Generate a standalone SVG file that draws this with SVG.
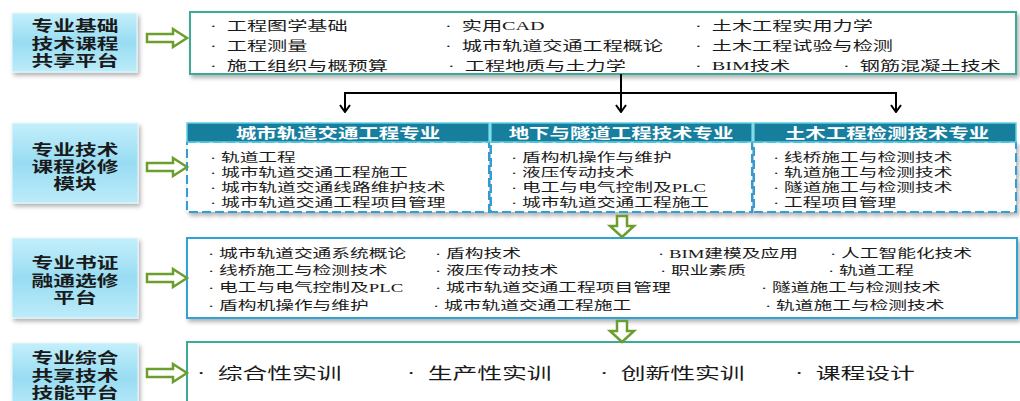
<svg xmlns="http://www.w3.org/2000/svg" width="1020" height="401" viewBox="0 0 1020 401">
<style>
text{font-family:"Noto Sans CJK SC","Noto Sans",sans-serif;fill:#1a1a1a}
.lat{font-family:"Liberation Serif","Noto Sans CJK SC",serif}
.t1{font-size:13px}
.t2{font-size:12px}
.t3{font-size:12.5px}
.t4{font-size:16px}
.lb{font-size:14.5px;font-weight:700;text-anchor:middle}
.hd{font-size:14px;font-weight:700;fill:#fff;text-anchor:middle}
.lab{fill:url(#lg);stroke:#e8f8fc;stroke-width:1}
.cb{fill:#fff;stroke-width:2}
.teal{stroke:#3caa98}
.blue{stroke:#2ea3d6}
.dash{fill:#fff;stroke:#2e9fd8;stroke-width:2;stroke-dasharray:9 4}
.hbar{fill:#187e9e;stroke:#5fd0e0;stroke-width:1.5}
.garr{fill:#fff;stroke:#6b9e2f;stroke-width:2.5;stroke-linejoin:miter}
.con{fill:none;stroke:#000;stroke-width:2}
</style>
<defs>
<linearGradient id="lg" x1="0" y1="0" x2="0" y2="1">
<stop offset="0" stop-color="#c4effb"/>
<stop offset="0.5" stop-color="#98dcf3"/>
<stop offset="1" stop-color="#bcecf9"/>
</linearGradient>
<filter id="sh" x="-5%" y="-10%" width="115%" height="130%">
<feDropShadow dx="2" dy="3" stdDeviation="2" flood-color="#000" flood-opacity="0.3"/>
</filter>
<marker id="ah" viewBox="0 0 12 10" refX="6" refY="9" markerWidth="12" markerHeight="10" markerUnits="userSpaceOnUse" orient="0">
<path d="M1,2 L6,9 L11,2" fill="none" stroke="#000" stroke-width="2"/>
</marker>
</defs>

<!-- Row 1 -->
<g id="label1">
<rect class="lab" x="12" y="13" width="125" height="59" filter="url(#sh)"/>
<text class="lb" transform="translate(75,31) scale(1.5,1)"><tspan x="0" y="0">专业基础</tspan><tspan x="0" y="18">技术课程</tspan><tspan x="0" y="35">共享平台</tspan></text>
</g>
<g id="content1">
<rect class="cb teal" x="190" y="12" width="826" height="62" filter="url(#sh)"/>
<text class="t1" transform="translate(210,30) scale(1.55,1)"><tspan class="lat">·&#160;&#160;</tspan>工程图学基础</text>
<text class="t1" transform="translate(445,30) scale(1.55,1)"><tspan class="lat">·&#160;&#160;</tspan>实用<tspan class="lat">CAD</tspan></text>
<text class="t1" transform="translate(695,30) scale(1.55,1)"><tspan class="lat">·&#160;&#160;</tspan>土木工程实用力学</text>
<text class="t1" transform="translate(210,50) scale(1.55,1)"><tspan class="lat">·&#160;&#160;</tspan>工程测量</text>
<text class="t1" transform="translate(445,50) scale(1.55,1)"><tspan class="lat">·&#160;&#160;</tspan>城市轨道交通工程概论</text>
<text class="t1" transform="translate(695,50) scale(1.55,1)"><tspan class="lat">·&#160;&#160;</tspan>土木工程试验与检测</text>
<text class="t1" transform="translate(210,70) scale(1.55,1)"><tspan class="lat">·&#160;&#160;</tspan>施工组织与概预算</text>
<text class="t1" transform="translate(448,70) scale(1.55,1)"><tspan class="lat">·&#160;&#160;</tspan>工程地质与土力学</text>
<text class="t1" transform="translate(695,70) scale(1.55,1)"><tspan class="lat">·&#160;&#160;BIM</tspan>技术</text>
<text class="t1" transform="translate(843,70) scale(1.55,1)"><tspan class="lat">·&#160;&#160;</tspan>钢筋混凝土技术</text>
</g>

<!-- Row 2 -->
<g id="label2">
<rect class="lab" x="12" y="123" width="126" height="80" filter="url(#sh)"/>
<text class="lb" transform="translate(75,155) scale(1.5,1)"><tspan x="0" y="0">专业技术</tspan><tspan x="0" y="17">课程必修</tspan><tspan x="0" y="34">模块</tspan></text>
</g>
<g id="module1">
<rect class="dash" x="187" y="142" width="302" height="70" filter="url(#sh)"/>
<rect class="hbar" x="187" y="123" width="302" height="19"/>
<text class="hd" transform="translate(338,138) scale(1.46,1)">城市轨道交通工程专业</text>
<text class="t2" transform="translate(210,162) scale(1.56,1)"><tspan class="lat">·&#160;</tspan>轨道工程</text>
<text class="t2" transform="translate(210,177) scale(1.56,1)"><tspan class="lat">·&#160;</tspan>城市轨道交通工程施工</text>
<text class="t2" transform="translate(210,192) scale(1.56,1)"><tspan class="lat">·&#160;</tspan>城市轨道交通线路维护技术</text>
<text class="t2" transform="translate(210,207) scale(1.56,1)"><tspan class="lat">·&#160;</tspan>城市轨道交通工程项目管理</text>
</g>
<g id="module2">
<rect class="dash" x="491" y="142" width="261" height="70" filter="url(#sh)"/>
<rect class="hbar" x="491" y="123" width="261" height="19"/>
<text class="hd" transform="translate(621,138) scale(1.46,1)">地下与隧道工程技术专业</text>
<text class="t2" transform="translate(511,162) scale(1.56,1)"><tspan class="lat">·&#160;</tspan>盾构机操作与维护</text>
<text class="t2" transform="translate(511,177) scale(1.56,1)"><tspan class="lat">·&#160;</tspan>液压传动技术</text>
<text class="t2" transform="translate(511,192) scale(1.56,1)"><tspan class="lat">·&#160;</tspan>电工与电气控制及<tspan class="lat">PLC</tspan></text>
<text class="t2" transform="translate(511,207) scale(1.56,1)"><tspan class="lat">·&#160;</tspan>城市轨道交通工程施工</text>
</g>
<g id="module3">
<rect class="dash" x="754" y="142" width="262" height="70" filter="url(#sh)"/>
<rect class="hbar" x="754" y="123" width="262" height="19"/>
<text class="hd" transform="translate(887,138) scale(1.46,1)">土木工程检测技术专业</text>
<text class="t2" transform="translate(773,162) scale(1.56,1)"><tspan class="lat">·&#160;</tspan>线桥施工与检测技术</text>
<text class="t2" transform="translate(773,177) scale(1.56,1)"><tspan class="lat">·&#160;</tspan>轨道施工与检测技术</text>
<text class="t2" transform="translate(773,192) scale(1.56,1)"><tspan class="lat">·&#160;</tspan>隧道施工与检测技术</text>
<text class="t2" transform="translate(773,207) scale(1.56,1)"><tspan class="lat">·&#160;</tspan>工程项目管理</text>
</g>

<!-- Row 3 -->
<g id="label3">
<rect class="lab" x="12" y="238" width="126" height="80" filter="url(#sh)"/>
<text class="lb" transform="translate(75,268) scale(1.5,1)"><tspan x="0" y="0">专业书证</tspan><tspan x="0" y="18">融通选修</tspan><tspan x="0" y="35">平台</tspan></text>
</g>
<g id="content3">
<rect class="cb blue" x="187" y="238" width="830" height="80" filter="url(#sh)"/>
<text class="t3" transform="translate(208,258) scale(1.5,1)"><tspan class="lat">·&#160;</tspan>城市轨道交通系统概论</text>
<text class="t3" transform="translate(435,258) scale(1.5,1)"><tspan class="lat">·&#160;</tspan>盾构技术</text>
<text class="t3" transform="translate(658,258) scale(1.5,1)"><tspan class="lat">·&#160;BIM</tspan>建模及应用</text>
<text class="t3" transform="translate(830,258) scale(1.5,1)"><tspan class="lat">·&#160;</tspan>人工智能化技术</text>
<text class="t3" transform="translate(208,275) scale(1.5,1)"><tspan class="lat">·&#160;</tspan>线桥施工与检测技术</text>
<text class="t3" transform="translate(435,275) scale(1.5,1)"><tspan class="lat">·&#160;</tspan>液压传动技术</text>
<text class="t3" transform="translate(660,275) scale(1.5,1)"><tspan class="lat">·&#160;</tspan>职业素质</text>
<text class="t3" transform="translate(828,275) scale(1.5,1)"><tspan class="lat">·&#160;</tspan>轨道工程</text>
<text class="t3" transform="translate(208,292) scale(1.5,1)"><tspan class="lat">·&#160;</tspan>电工与电气控制及<tspan class="lat">PLC</tspan></text>
<text class="t3" transform="translate(435,292) scale(1.5,1)"><tspan class="lat">·&#160;</tspan>城市轨道交通工程项目管理</text>
<text class="t3" transform="translate(761,292) scale(1.5,1)"><tspan class="lat">·&#160;</tspan>隧道施工与检测技术</text>
<text class="t3" transform="translate(208,310) scale(1.5,1)"><tspan class="lat">·&#160;</tspan>盾构机操作与维护</text>
<text class="t3" transform="translate(433,310) scale(1.5,1)"><tspan class="lat">·&#160;</tspan>城市轨道交通工程施工</text>
<text class="t3" transform="translate(765,310) scale(1.5,1)"><tspan class="lat">·&#160;</tspan>轨道施工与检测技术</text>
</g>

<!-- Row 4 -->
<g id="label4">
<rect class="lab" x="12" y="343" width="126" height="70" filter="url(#sh)"/>
<text class="lb" transform="translate(75,363) scale(1.5,1)"><tspan x="0" y="0">专业综合</tspan><tspan x="0" y="18">共享技术</tspan><tspan x="0" y="35">技能平台</tspan></text>
</g>
<g id="content4">
<rect class="cb teal" x="187" y="342" width="840" height="70"/>
<text class="t4" transform="translate(197,379) scale(1.55,1)"><tspan class="lat">·&#160;&#160;</tspan>综合性实训</text>
<text class="t4" transform="translate(407,379) scale(1.55,1)"><tspan class="lat">·&#160;&#160;</tspan>生产性实训</text>
<text class="t4" transform="translate(600,379) scale(1.55,1)"><tspan class="lat">·&#160;&#160;</tspan>创新性实训</text>
<text class="t4" transform="translate(795,379) scale(1.55,1)"><tspan class="lat">·&#160;&#160;</tspan>课程设计</text>
</g>

<!-- Connectors -->
<g id="connectors">
<polygon class="garr" points="147,34 173,34 173,29 187,38 173,47 173,42 147,42"/>
<polygon class="garr" points="147,163 173,163 173,158 187,167 173,176 173,171 147,171"/>
<polygon class="garr" points="147,274 173,274 173,269 187,278 173,287 173,282 147,282"/>
<polygon class="garr" points="147,369 173,369 173,364 187,373 173,382 173,377 147,377"/>
<polygon class="garr" points="617,216 627,216 627,226 634,226 622,237 610,226 617,226"/>
<polygon class="garr" points="617,321 627,321 627,331 634,331 622,342 610,331 617,331"/>
<path class="con" d="M621,74 V112" marker-end="url(#ah)"/>
<path class="con" d="M345,93 H896"/>
<path class="con" d="M345,92 V112" marker-end="url(#ah)"/>
<path class="con" d="M896,92 V112" marker-end="url(#ah)"/>
</g>
</svg>
